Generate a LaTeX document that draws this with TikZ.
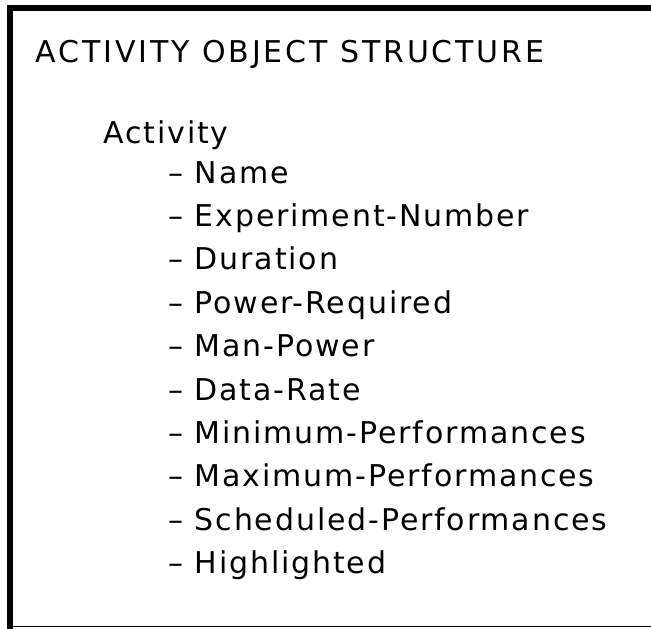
\documentclass[tikz,border=0pt]{standalone}
\usepackage{fontspec}
\setmainfont{DejaVu Sans}[LetterSpace=6.2]
\newfontfamily\headfont{DejaVu Sans}[LetterSpace=9.6]
\usetikzlibrary{positioning}
\tikzset{
  headtext/.style={anchor=base west, inner sep=0pt, font=\fontsize{15}{18}\selectfont},
  titletext/.style={headtext, font=\fontsize{15}{18}\headfont},
  fieldtext/.style={headtext, text height=11pt, text depth=3.5pt},
  frameline/.style={line width=3pt}
}

\begin{document}
\begin{tikzpicture}[x=0.5pt,y=-0.5pt]
  \useasboundingbox (0,0) rectangle (651,628);
  % frame, open on the right
  \draw[line width=0.75pt] (10,626.5) -- (651,626.5);
  \draw[frameline] (652,8) -- (10,8) -- (10,630);
  % heading
  \node[titletext] (title) at (35,62) {ACTIVITY OBJECT STRUCTURE};
  \node[headtext] (obj) at (103,143) {Activity};
  % attributes
  \node[fieldtext, anchor=base west] (f1) at (168,183) {-- Name};
  \node[fieldtext, below=6.8pt of f1.south west, anchor=north west] (f2) {-- Experiment-Number};
  \node[fieldtext, below=6.8pt of f2.south west, anchor=north west] (f3) {-- Duration};
  \node[fieldtext, below=6.8pt of f3.south west, anchor=north west] (f4) {-- Power-Required};
  \node[fieldtext, below=6.8pt of f4.south west, anchor=north west] (f5) {-- Man-Power};
  \node[fieldtext, below=6.8pt of f5.south west, anchor=north west] (f6) {-- Data-Rate};
  \node[fieldtext, below=6.8pt of f6.south west, anchor=north west] (f7) {-- Minimum-Performances};
  \node[fieldtext, below=6.8pt of f7.south west, anchor=north west] (f8) {-- Maximum-Performances};
  \node[fieldtext, below=6.8pt of f8.south west, anchor=north west] (f9) {-- Scheduled-Performances};
  \node[fieldtext, below=6.8pt of f9.south west, anchor=north west] (f10) {-- Highlighted};
\end{tikzpicture}
\end{document}
